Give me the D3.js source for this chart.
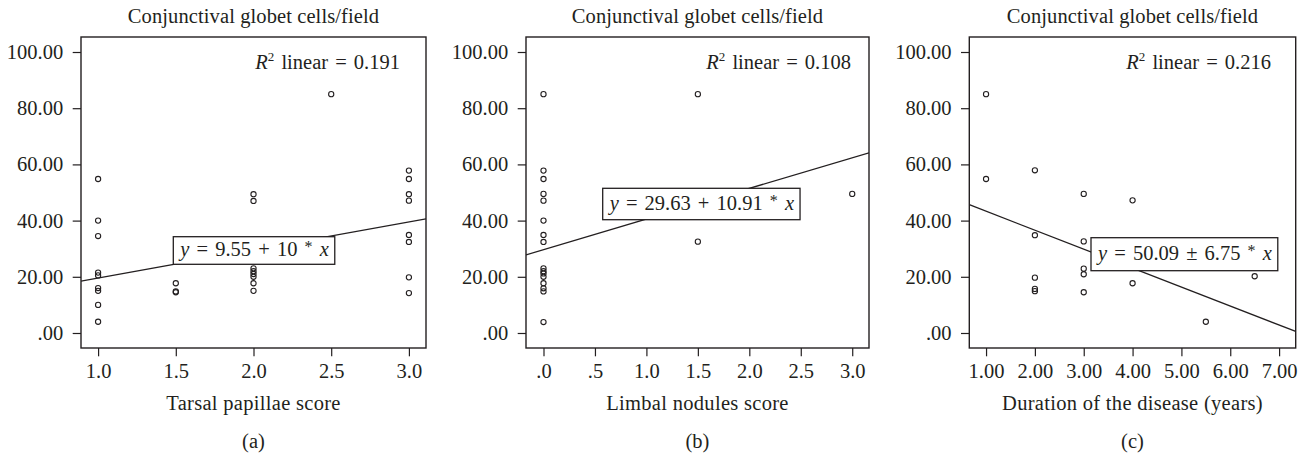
<!DOCTYPE html>
<html>
<head>
<meta charset="utf-8">
<script src="https://cdn.jsdelivr.net/npm/d3@7"></script>
<style>
  html, body { margin: 0; padding: 0; background: #fff; }
  svg text { font-family: "Liberation Serif", "DejaVu Serif", serif; fill: #231f20; }
</style>
</head>
<body>
<svg id="chart" width="1306" height="457"></svg>
<script>
// ---------- DATA ----------
const yTicks = [0, 20, 40, 60, 80, 100];
const chartTitle = "Conjunctival globet cells/field";

// Panel (a)
const tarsalScore  = [1, 1, 1, 1, 1, 1, 1, 1, 1, 1.5, 1.5, 1.5, 2, 2, 2, 2, 2, 2, 2, 2, 2.5, 3, 3, 3, 3, 3, 3, 3, 3];
const tarsalGoblet = [54.8, 40, 34.5, 21.5, 20.5, 16, 15, 10, 4, 17.7, 14.8, 14.5, 49.4, 47, 23, 22, 21, 20, 17.7, 15, 85, 57.8, 54.8, 49.4, 47.1, 34.9, 32.4, 19.8, 14.2];
const tarsalTicks  = [1.0, 1.5, 2.0, 2.5, 3.0];

// Panel (b)
const limbalScore  = [0, 0, 0, 0, 0, 0, 0, 0, 0, 0, 0, 0, 0, 0, 0, 0, 1.5, 1.5, 3];
const limbalGoblet = [85, 57.8, 54.8, 49.5, 47.1, 40, 34.9, 32.4, 23, 22, 21.2, 20, 17.7, 15.9, 14.8, 3.9, 85, 32.5, 49.5];
const limbalTicks  = [0, 0.5, 1.0, 1.5, 2.0, 2.5, 3.0];

// Panel (c)
const durationYears  = [1, 1, 2, 2, 2, 2, 2, 3, 3, 3, 3, 3, 4, 4, 5.5, 6.5];
const durationGoblet = [85, 54.8, 57.9, 34.8, 19.7, 15.7, 14.9, 49.5, 32.6, 22.9, 20.9, 14.5, 47.2, 17.7, 4, 20.2];
const durationTicks  = [1, 2, 3, 4, 5, 6, 7];

// Fit lines
const intercepts = [9.55, 29.63, 50.09];
const slopes     = [10, 10.91, -6.75];
const r2Values   = ["0.191", "0.108", "0.216"];
const eqNumbers  = ["9.55 + 10", "29.63 + 10.91", "50.09 \u00b1 6.75"];
const xTitles    = ["Tarsal papillae score", "Limbal nodules score", "Duration of the disease (years)"];
const panelTags  = ["(a)", "(b)", "(c)"];

// ---------- LAYOUT ----------
const FONT = 20.5;
const plotTop = 37, plotBottom = 348;
const panels = [
  { xs: tarsalScore, ys: tarsalGoblet, ticks: tarsalTicks, dom: [0.89, 3.11], left: 81, right: 426,
    fmt: v => d3.format(".1f")(v), r2Right: 400, eqBox: [173.3, 236.7, 27.6], eqBase: 256 },
  { xs: limbalScore, ys: limbalGoblet, ticks: limbalTicks, dom: [-0.17, 3.163], left: 526, right: 869,
    fmt: v => d3.format(".1f")(v).replace(/^0\./, "."), r2Right: 851, eqBox: [602.7, 188.3, 31.4], eqBase: 209.5 },
  { xs: durationYears, ys: durationGoblet, ticks: durationTicks, dom: [0.657, 7.34], left: 969.3, right: 1295.7,
    fmt: v => d3.format(".2f")(v), r2Right: 1271, eqBox: [1091, 237.7, 33], eqBase: 259.5 }
];
const yFmt = v => d3.format(".2f")(v).replace(/^0\./, ".");

const svg = d3.select("#chart");

panels.forEach((p, i) => {
  const x = d3.scaleLinear().domain(p.dom).range([p.left, p.right]);
  const y = d3.scaleLinear().domain([-5.34, 105.34]).range([plotBottom, plotTop]);
  const g = svg.append("g");
  const cx = (p.left + p.right) / 2;

  const clipId = "clip" + i;
  svg.append("clipPath").attr("id", clipId).append("rect")
    .attr("x", p.left).attr("y", plotTop).attr("width", p.right - p.left).attr("height", plotBottom - plotTop);

  g.append("text").attr("x", cx).attr("y", 23.3).attr("text-anchor", "middle")
    .style("font-size", FONT + "px").style("letter-spacing", "0.1px").text(chartTitle);

  const ya = d3.axisLeft(y).tickValues(yTicks).tickFormat(yFmt).tickSize(8.3).tickPadding(9.5);
  const yG = g.append("g").attr("transform", `translate(${p.left},0)`).call(ya);
  yG.select(".domain").remove();
  yG.selectAll("line").attr("stroke", "#231f20").attr("stroke-width", 1.2);
  yG.selectAll("text").style("font-size", FONT + "px").attr("fill", "#231f20")
    .style("font-family", '"Liberation Serif", serif');

  const xa = d3.axisBottom(x).tickValues(p.ticks).tickFormat(p.fmt).tickSize(8.3).tickPadding(7);
  const xG = g.append("g").attr("transform", `translate(0,${plotBottom})`).call(xa);
  xG.select(".domain").remove();
  xG.selectAll("line").attr("stroke", "#231f20").attr("stroke-width", 1.2);
  xG.selectAll("text").style("font-size", FONT + "px").attr("fill", "#231f20")
    .style("font-family", '"Liberation Serif", serif');

  g.append("rect").attr("x", p.left).attr("y", plotTop)
    .attr("width", p.right - p.left).attr("height", plotBottom - plotTop)
    .attr("fill", "none").attr("stroke", "#231f20").attr("stroke-width", 1.4);

  const lineData = p.dom.map(v => [v, intercepts[i] + slopes[i] * v]);
  g.append("path").attr("clip-path", `url(#${clipId})`)
    .attr("d", d3.line().x(d => x(d[0])).y(d => y(d[1]))(lineData))
    .attr("fill", "none").attr("stroke", "#231f20").attr("stroke-width", 1.3);

  g.append("g").selectAll("circle").data(p.xs.map((v, k) => [v, p.ys[k]])).join("circle")
    .attr("cx", d => x(d[0])).attr("cy", d => y(d[1])).attr("r", 2.6)
    .attr("fill", "none").attr("stroke", "#231f20").attr("stroke-width", 1.1);

  const r2 = g.append("text").attr("x", p.r2Right).attr("y", 69).attr("text-anchor", "end")
    .style("font-size", FONT + "px").style("word-spacing", "2px");
  r2.append("tspan").style("font-style", "italic").text("R");
  r2.append("tspan").attr("dy", -8).style("font-size", "13px").text("2");
  r2.append("tspan").attr("dy", 8).text(" linear = " + r2Values[i]);

  const [bx, by, bh] = p.eqBox;
  const rect = g.append("rect").attr("x", bx).attr("y", by).attr("height", bh)
    .attr("fill", "#fff").attr("stroke", "#231f20").attr("stroke-width", 1.3);
  const eq = g.append("text").attr("x", bx + 7).attr("y", p.eqBase)
    .style("font-size", FONT + "px").style("word-spacing", "2px");
  eq.append("tspan").style("font-style", "italic").text("y");
  eq.append("tspan").text(" = " + eqNumbers[i] + " ");
  eq.append("tspan").attr("dy", -4).style("font-size", "16px").text("*");
  eq.append("tspan").attr("dy", 4).text(" ");
  eq.append("tspan").style("font-style", "italic").text("x");
  const bb = eq.node().getBBox();
  rect.attr("width", bb.x + bb.width + 6 - bx);

  g.append("text").attr("x", cx).attr("y", 410).attr("text-anchor", "middle")
    .style("font-size", FONT + "px").style("letter-spacing", "0.3px").text(xTitles[i]);
  g.append("text").attr("x", cx).attr("y", 448).attr("text-anchor", "middle")
    .style("font-size", FONT + "px").text(panelTags[i]);
});
</script>
</body>
</html>
